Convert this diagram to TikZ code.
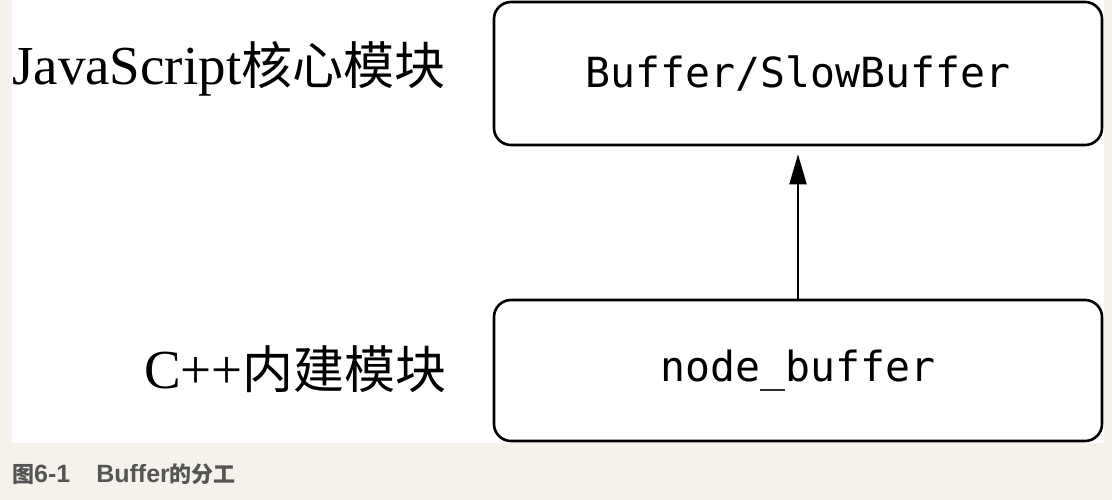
\documentclass[tikz,border=0pt]{standalone}
\usepackage{fontspec}
\setmainfont{Liberation Serif}
\setmonofont{DejaVu Sans Mono}
\newfontfamily\capfont{Liberation Sans}
\newfontfamily\cjk{Noto Sans CJK SC}
\usetikzlibrary{arrows.meta}
\definecolor{pagebg}{HTML}{F5F2EC}
\definecolor{capgray}{HTML}{555555}
\tikzset{
  modbox/.style={draw=black, line width=2.6pt, rounded corners=17pt, fill=white,
    minimum width=608pt, inner sep=0pt,
    font=\ttfamily\fontsize{41.5}{48}\selectfont},
  sidelabel/.style={inner sep=0pt, font=\fontsize{55}{60}\selectfont},
  uparrow/.style={line width=2pt, -{Triangle[length=30pt,width=17pt]}, shorten >=8pt},
}
\begin{document}
\begin{tikzpicture}[x=1pt,y=-1pt]
  \fill[pagebg] (0,0) rectangle (1112,500);
  \useasboundingbox (0,0) rectangle (1112,500);
  \fill[white] (12,0) rectangle (1104,443);
  \node[modbox, minimum height=143pt] (js) at (798,73.5) {Buffer/SlowBuffer};
  \node[modbox, minimum height=141pt] (cpp) at (798,370.5) {node\_buffer};
  \draw[uparrow] (cpp.north) -- (js.south);
  \node[sidelabel, anchor=base west] (jsl) at (12,85)
    {JavaScript{\cjk\fontsize{51}{60}\selectfont 核心模块}};
  \node[sidelabel, anchor=base east] (cppl) at (447,388)
    {C++{\cjk\fontsize{51}{60}\selectfont 内建模块}};
  \node[inner sep=0pt, anchor=base west, text=capgray] (cap) at (12,482)
    {{\cjk\bfseries\fontsize{22}{24}\selectfont 图}{\capfont\bfseries\fontsize{25}{28}\selectfont 6-1\hspace{26pt}Buffer}{\cjk\bfseries\fontsize{22}{24}\selectfont 的分工}};
\end{tikzpicture}
\end{document}
